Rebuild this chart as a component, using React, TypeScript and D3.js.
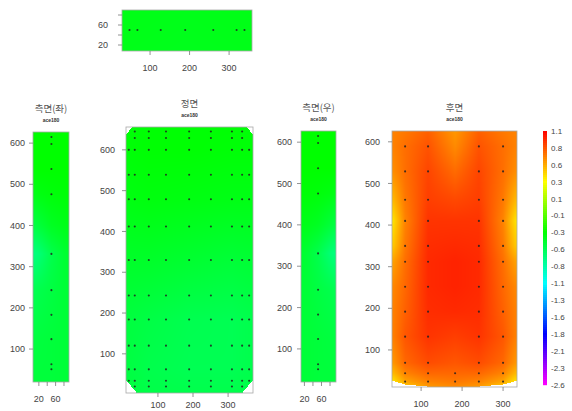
import React, { useMemo } from 'react';
import * as d3 from 'd3';

// colour key (labels as printed, evenly spaced from top to bottom)
const legendLabels = ['1.1', '0.8', '0.6', '0.3', '0.1', '-0.1', '-0.3', '-0.6', '-0.8', '-1.1', '-1.3', '-1.6', '-1.8', '-2.1', '-2.3', '-2.6'];
const valueExtent: [number, number] = [1.1, -2.6];

// 상면 (top strip)
const topGridX = [29, 189, 358];
const topGridY = [90, 8];
const topValues = [
  [-0.44, -0.45, -0.44],
  [-0.45, -0.46, -0.45],
];
const topDotsX = [48, 68, 127, 189, 260, 319, 339];
const topDotsY = [50];

// 측면(좌)
const leftGridX = [6, 20, 50, 80, 92];
const leftGridY = [627, 537, 476, 400, 331, 243, 124, 20];
const leftValues = [
  [-0.38, -0.38, -0.38, -0.38, -0.38],
  [-0.39, -0.38, -0.38, -0.38, -0.38],
  [-0.45, -0.43, -0.41, -0.4, -0.4],
  [-0.58, -0.55, -0.48, -0.45, -0.45],
  [-0.75, -0.72, -0.6, -0.53, -0.52],
  [-0.62, -0.6, -0.57, -0.54, -0.54],
  [-0.57, -0.56, -0.55, -0.54, -0.54],
  [-0.55, -0.55, -0.55, -0.54, -0.54],
];
const sideDotsY = [615, 598, 537, 476, 331, 243, 183, 124, 63, 51];
const leftDotsX = [50];

// 측면(우)
const rightGridX = [12, 24, 52, 82, 94];
const rightGridY = [627, 537, 476, 400, 331, 243, 124, 20];
const rightValues = [
  [-0.38, -0.38, -0.38, -0.38, -0.38],
  [-0.38, -0.38, -0.38, -0.38, -0.39],
  [-0.4, -0.4, -0.41, -0.43, -0.45],
  [-0.45, -0.45, -0.48, -0.55, -0.58],
  [-0.52, -0.53, -0.6, -0.72, -0.75],
  [-0.54, -0.54, -0.57, -0.6, -0.62],
  [-0.54, -0.54, -0.55, -0.56, -0.57],
  [-0.54, -0.54, -0.55, -0.55, -0.55],
];
const rightDotsX = [52];

// 정면
const frontGridX = [9, 74, 189, 311, 371];
const frontGridY = [656, 600, 479, 330, 184, 62, 4];
const frontValues = [
  [-0.4, -0.39, -0.39, -0.39, -0.4],
  [-0.4, -0.39, -0.39, -0.4, -0.4],
  [-0.43, -0.42, -0.43, -0.44, -0.44],
  [-0.5, -0.5, -0.52, -0.54, -0.53],
  [-0.56, -0.58, -0.61, -0.62, -0.6],
  [-0.57, -0.6, -0.62, -0.62, -0.6],
  [-0.56, -0.59, -0.6, -0.6, -0.58],
];
const frontOutline: [number, number][] = [[9, 636], [26, 656], [354, 656], [371, 636], [371, 36], [340, 4], [40, 4], [9, 36]];
const frontDotsX = [17, 34, 74, 123, 189, 251, 311, 340, 360];
const frontDotsY = [645, 629, 600, 539, 479, 412, 330, 243, 184, 120, 62, 34, 20];
const frontShortRows = [645, 629, 20];

// 후면
const rearGridX = [29, 61, 117, 183, 241, 300, 334];
const rearGridY = [626, 589, 529, 461, 410, 350, 312, 252, 192, 132, 69, 44, 24, 11];
const rearValues = [
  [0.72, 0.75, 0.82, 0.66, 0.82, 0.75, 0.72],
  [0.72, 0.78, 0.86, 0.7, 0.86, 0.78, 0.72],
  [0.68, 0.78, 0.9, 0.79, 0.9, 0.78, 0.68],
  [0.55, 0.75, 0.92, 0.89, 0.92, 0.75, 0.55],
  [0.42, 0.72, 0.95, 0.95, 0.95, 0.72, 0.42],
  [0.5, 0.75, 0.97, 0.98, 0.97, 0.75, 0.5],
  [0.62, 0.78, 0.98, 1.0, 0.98, 0.78, 0.62],
  [0.7, 0.8, 0.98, 1.0, 0.98, 0.8, 0.7],
  [0.72, 0.82, 0.97, 0.98, 0.97, 0.82, 0.72],
  [0.72, 0.85, 0.95, 0.92, 0.95, 0.85, 0.72],
  [0.65, 0.8, 0.88, 0.85, 0.88, 0.8, 0.65],
  [0.55, 0.72, 0.8, 0.8, 0.8, 0.72, 0.55],
  [0.42, 0.62, 0.72, 0.75, 0.72, 0.62, 0.42],
  [0.36, 0.5, 0.65, 0.7, 0.65, 0.5, 0.36],
];
const rearOutline: [number, number][] = [[29, 626], [334, 626], [334, 26], [300, 17], [241, 12], [183, 11], [117, 12], [61, 17], [29, 26]];
const rearDotsX = [61, 117, 241, 300];
const rearDotsY = [589, 529, 461, 410, 350, 312, 252, 192, 132, 69, 44, 24];
const rearCenterX = [183];
const rearCenterRows = [44, 24];

const heightTicks = [100, 200, 300, 400, 500, 600];
const widthTicks = [100, 200, 300];
const depthTicks = [20, 40, 60, 80];
const depthLabels = [20, 60];

const subtitle = 'ace180';

const hue = d3.scaleLinear().domain(valueExtent).range([0, 300]).clamp(true);
const colorOf = (v: number) => d3.hsl(hue(v), 1, 0.5).rgb();

interface Box { x0: number; x1: number; y0: number; y1: number }
interface PanelSpec {
  key: string;
  title?: string;
  box: Box;
  xDomain: [number, number];
  yDomain: [number, number];
  gridX: number[];
  gridY: number[];
  values: number[][];
  outline?: [number, number][];
  dots: [number, number][];
  xTicks: number[];
  xLabels: number[];
  yTicks: number[];
  yLabels: number[];
  labelGap: number;
  xLabelOffset: number;
}

function renderField(p: PanelSpec): string {
  const w = p.box.x1 - p.box.x0;
  const h = p.box.y1 - p.box.y0;
  const canvas = document.createElement('canvas');
  canvas.width = w;
  canvas.height = h;
  const ctx = canvas.getContext('2d');
  if (!ctx) return '';
  const img = ctx.createImageData(w, h);
  const xs = d3.scaleLinear().domain(p.xDomain).range([0, w]);
  const ys = d3.scaleLinear().domain(p.yDomain).range([h, 0]);
  const ix = d3.scaleLinear().domain(p.gridX).range(d3.range(p.gridX.length)).clamp(true);
  const iy = d3.scaleLinear().domain(p.gridY).range(d3.range(p.gridY.length)).clamp(true);
  const nx = p.gridX.length - 1;
  const ny = p.gridY.length - 1;
  for (let j = 0; j < h; j++) {
    for (let i = 0; i < w; i++) {
      const dx = xs.invert(i + 0.5);
      const dy = ys.invert(j + 0.5);
      if (p.outline && !d3.polygonContains(p.outline, [dx, dy])) continue;
      const fx = ix(dx);
      const fy = iy(dy);
      const i0 = Math.min(Math.floor(fx), nx - 1);
      const j0 = Math.min(Math.floor(fy), ny - 1);
      const tx = fx - i0;
      const ty = fy - j0;
      const v00 = p.values[j0][i0];
      const v01 = p.values[j0][i0 + 1];
      const v10 = p.values[j0 + 1][i0];
      const v11 = p.values[j0 + 1][i0 + 1];
      const v = (v00 * (1 - tx) + v01 * tx) * (1 - ty) + (v10 * (1 - tx) + v11 * tx) * ty;
      const c = colorOf(v);
      const k = (j * w + i) * 4;
      img.data[k] = c.r;
      img.data[k + 1] = c.g;
      img.data[k + 2] = c.b;
      img.data[k + 3] = 255;
    }
  }
  ctx.putImageData(img, 0, 0);
  return canvas.toDataURL();
}

const tickFont = '"Liberation Sans", Arial, sans-serif';
const titleFont = '"Noto Sans CJK KR", "Noto Sans", sans-serif';

function Panel({ p }: { p: PanelSpec }) {
  const { box } = p;
  const x = d3.scaleLinear().domain(p.xDomain).range([box.x0, box.x1]);
  const y = d3.scaleLinear().domain(p.yDomain).range([box.y1, box.y0]);
  const href = useMemo(() => renderField(p), [p]);
  const cx = (box.x0 + box.x1) / 2;

  return (
    <g>
      <image href={href} x={box.x0} y={box.y0} width={box.x1 - box.x0} height={box.y1 - box.y0} preserveAspectRatio="none" />
      <rect x={box.x0} y={box.y0} width={box.x1 - box.x0} height={box.y1 - box.y0} fill="none" stroke="#a8a8a8" strokeWidth={0.8} />
      {p.dots.map(([dx, dy], i) => (
        <circle key={i} cx={x(dx)} cy={y(dy)} r={1.05} fill="#222" opacity={0.85} />
      ))}
      {p.yTicks.map(t => (
        <line key={'yt' + t} x1={box.x0} x2={box.x0 - 4} y1={y(t)} y2={y(t)} stroke="#777" strokeWidth={0.8} />
      ))}
      {p.yLabels.map(t => (
        <text key={'yl' + t} x={box.x0 - p.labelGap} y={y(t)} dy="0.35em" textAnchor="end" fontSize={9} fontFamily={tickFont} fill="#444">{t}</text>
      ))}
      {p.xTicks.map(t => (
        <line key={'xt' + t} x1={x(t)} x2={x(t)} y1={box.y1} y2={box.y1 + 4} stroke="#777" strokeWidth={0.8} />
      ))}
      {p.xLabels.map(t => (
        <text key={'xl' + t} x={x(t)} y={box.y1 + p.xLabelOffset} dy="0.35em" textAnchor="middle" fontSize={9} fontFamily={tickFont} fill="#444">{t}</text>
      ))}
      {p.title && (
        <>
          <text x={cx} y={box.y0 - 23} dy="0.35em" textAnchor="middle" fontSize={9.5} fontFamily={titleFont} fill="#555">{p.title}</text>
          <text x={cx} y={box.y0 - 12} dy="0.35em" textAnchor="middle" fontSize={5} fontWeight="bold" fontFamily={tickFont} fill="#333">{subtitle}</text>
        </>
      )}
    </g>
  );
}

const panels: PanelSpec[] = [
  {
    key: 'top',
    box: { x0: 122, x1: 252, y0: 10, y1: 51 },
    xDomain: [29, 358], yDomain: [8, 90],
    gridX: topGridX, gridY: topGridY, values: topValues,
    dots: d3.cross(topDotsX, topDotsY),
    xTicks: widthTicks, xLabels: widthTicks,
    yTicks: depthTicks, yLabels: depthLabels, labelGap: 14, xLabelOffset: 17,
  },
  {
    key: 'left', title: '측면(좌)',
    box: { x0: 33, x1: 69, y0: 132, y1: 382 },
    xDomain: [6, 92], yDomain: [20, 627],
    gridX: leftGridX, gridY: leftGridY, values: leftValues,
    dots: d3.cross(leftDotsX, sideDotsY),
    xTicks: depthTicks, xLabels: depthLabels,
    yTicks: heightTicks, yLabels: heightTicks, labelGap: 8, xLabelOffset: 17,
  },
  {
    key: 'front', title: '정면',
    box: { x0: 126, x1: 253, y0: 127, y1: 393 },
    xDomain: [9, 371], yDomain: [4, 656],
    gridX: frontGridX, gridY: frontGridY, values: frontValues, outline: frontOutline,
    dots: d3.cross(frontDotsX, frontDotsY).filter(([dx, dy]) =>
      !(frontShortRows.includes(dy) && (dx === frontDotsX[0] || dx === frontDotsX[frontDotsX.length - 1]))),
    xTicks: widthTicks, xLabels: widthTicks,
    yTicks: heightTicks, yLabels: heightTicks, labelGap: 11, xLabelOffset: 12,
  },
  {
    key: 'right', title: '측면(우)',
    box: { x0: 301, x1: 336, y0: 131, y1: 382 },
    xDomain: [12, 94], yDomain: [20, 627],
    gridX: rightGridX, gridY: rightGridY, values: rightValues,
    dots: d3.cross(rightDotsX, sideDotsY),
    xTicks: depthTicks, xLabels: depthLabels,
    yTicks: heightTicks, yLabels: heightTicks, labelGap: 9, xLabelOffset: 17,
  },
  {
    key: 'rear', title: '후면',
    box: { x0: 392, x1: 517, y0: 131, y1: 387 },
    xDomain: [29, 334], yDomain: [11, 626],
    gridX: rearGridX, gridY: rearGridY, values: rearValues, outline: rearOutline,
    dots: [...d3.cross(rearDotsX, rearDotsY), ...d3.cross(rearCenterX, rearCenterRows)],
    xTicks: widthTicks, xLabels: widthTicks,
    yTicks: heightTicks, yLabels: heightTicks, labelGap: 12, xLabelOffset: 17,
  },
];

function Legend() {
  const top = 131;
  const bottom = 385;
  const barX = 543;
  const barW = 4;
  const pos = d3.scalePoint<string>().domain(legendLabels).range([top, bottom]);
  const vScale = d3.scaleLinear().domain([top, bottom]).range(valueExtent);
  const steps = d3.range(top, bottom, 2);
  return (
    <g>
      {steps.map(s => (
        <rect key={s} x={barX} y={s} width={barW} height={2.2} fill={colorOf(vScale(s + 1)).toString()} />
      ))}
      {legendLabels.map(l => (
        <text key={l} x={551} y={pos(l)} dy="0.35em" fontSize={8} fontFamily={tickFont} fill="#444">{l}</text>
      ))}
    </g>
  );
}

export default function App() {
  return (
    <svg width={572} height={411} style={{ position: 'absolute', left: 0, top: 0, background: '#fff' }}>
      <rect width={572} height={411} fill="#fff" />
      {panels.map(p => <Panel key={p.key} p={p} />)}
      <Legend />
    </svg>
  );
}
